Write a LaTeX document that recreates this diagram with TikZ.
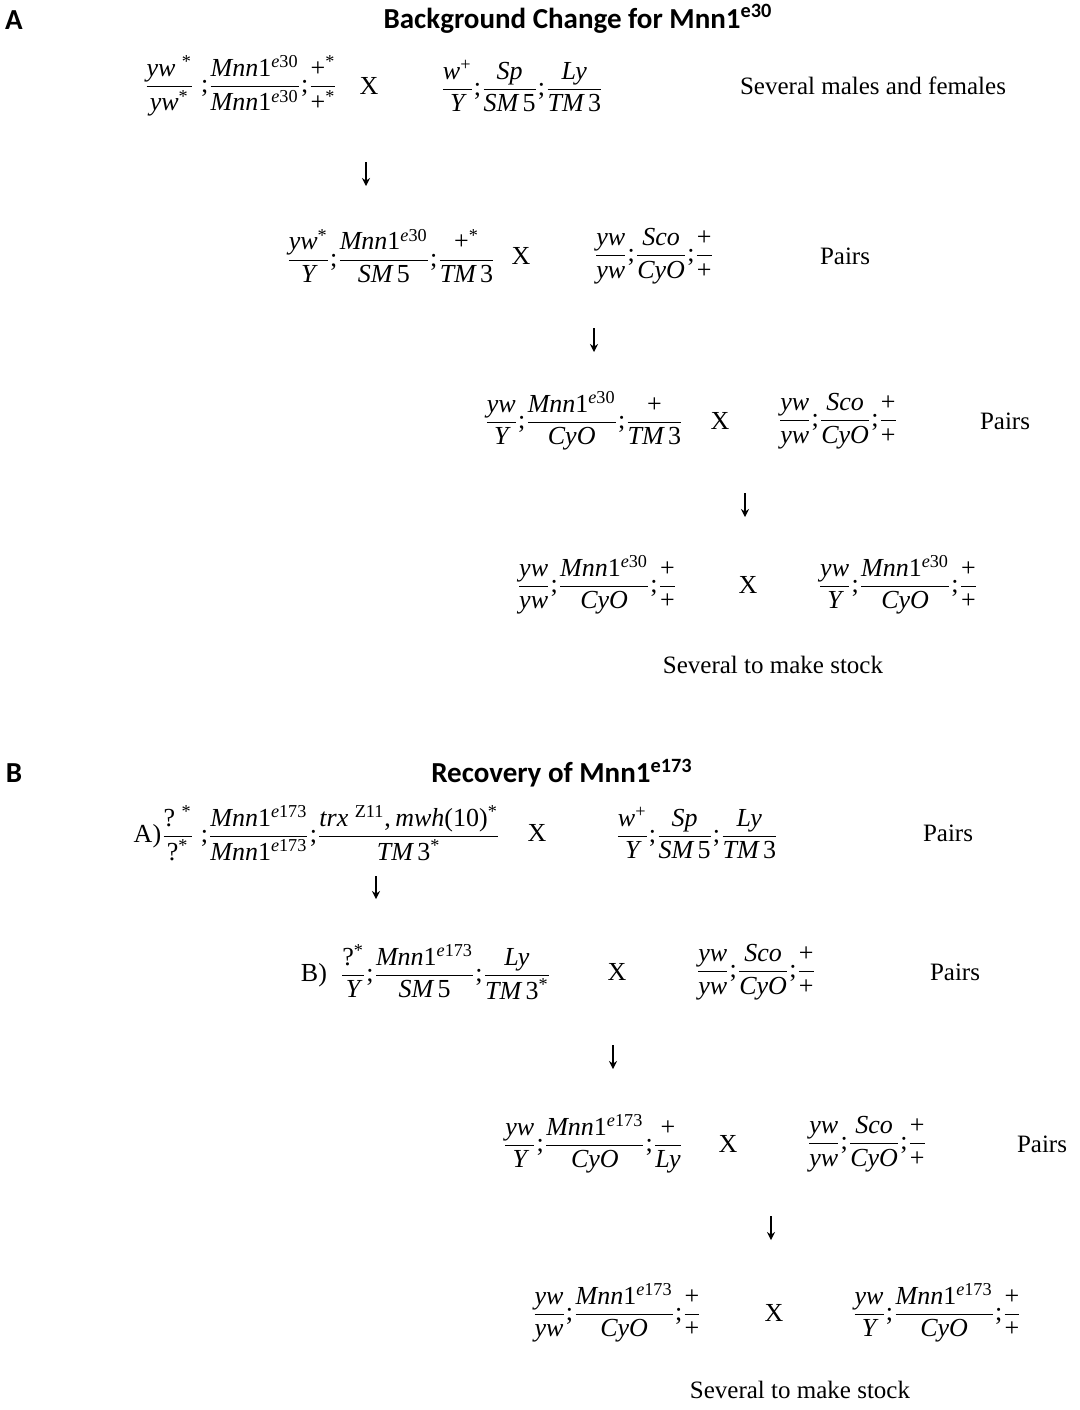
\documentclass[tikz,border=0pt]{standalone}
\usepackage{amsmath}
\usepackage{fontspec}
\setmainfont{Liberation Serif}
\newfontfamily\headfont{Carlito}
\usepackage{tikz}
\usetikzlibrary{arrows.meta}

% genotype helpers
\newcommand{\fr}[2]{\dfrac{\mbox{\itshape #1}}{\mbox{\itshape #2}}}
\newcommand{\st}{\textsuperscript{\upshape *}}
\newcommand{\sep}{\mbox{;}}
\newcommand{\mnn}[1]{Mnn\textup{1}\textsuperscript{e\textup{#1}}}
\newcommand{\plus}{\textup{+}}
\newcommand{\qm}{\textup{?}}

\tikzset{
  cross/.style={inner sep=0pt, font=\fontsize{13}{16}\selectfont},
  note/.style={inner sep=0pt, font=\fontsize{12.5}{15}\selectfont},
  head/.style={inner sep=0pt, font=\fontsize{14.5}{17}\selectfont\headfont\bfseries},
  down/.style={-{Stealth[length=4pt,width=4pt]}, line width=0.6pt},
}

\begin{document}
\begin{tikzpicture}[x=0.5pt, y=-0.5pt]

\useasboundingbox (0,0) rectangle (1080,1410);

% ── A: Background change ─────────────────────────────────────────────────────
\node[head] (labA) at (14,20) {A};
\node[head] (titA) at (578,19) {Background Change for Mnn1\textsuperscript{e30}};

% generation 1
\node[cross] (a1l) at (241,86)
  {$\fr{yw\ \st}{yw\st}\;\sep\fr{\mnn{30}}{\mnn{30}}\sep\fr{\plus\st}{\plus\st}$};
\node[cross] (a1x) at (369,86) {X};
\node[cross] (a1r) at (522,86)
  {$\fr{w\textsuperscript{\upshape +}}{Y}\sep\fr{Sp}{SM\,\textup{5}}\sep\fr{Ly}{TM\,\textup{3}}$};
\node[note] (a1n) at (873,86) {Several males and females};

\coordinate (d1t) at (366,162);
\coordinate (d1b) at (366,186);
\draw[down] (d1t) -- (d1b);

% generation 2
\node[cross] (a2l) at (391,256)
  {$\fr{yw\st}{Y}\sep\fr{\mnn{30}}{SM\,\textup{5}}\sep\fr{\plus\st}{TM\,\textup{3}}$};
\node[cross] (a2x) at (521,256) {X};
\node[cross] (a2r) at (654,256)
  {$\fr{yw}{yw}\sep\fr{Sco}{CyO}\sep\fr{\plus}{\plus}$};
\node[note] (a2n) at (845,256) {Pairs};

\coordinate (d2t) at (594,328);
\coordinate (d2b) at (594,352);
\draw[down] (d2t) -- (d2b);

% generation 3
\node[cross] (a3l) at (584,421)
  {$\fr{yw}{Y}\sep\fr{\mnn{30}}{CyO}\sep\fr{\plus}{TM\,\textup{3}}$};
\node[cross] (a3x) at (720,421) {X};
\node[cross] (a3r) at (838,421)
  {$\fr{yw}{yw}\sep\fr{Sco}{CyO}\sep\fr{\plus}{\plus}$};
\node[note] (a3n) at (1005,421) {Pairs};

\coordinate (d3t) at (745,493);
\coordinate (d3b) at (745,517);
\draw[down] (d3t) -- (d3b);

% generation 4
\node[cross] (a4l) at (597,585)
  {$\fr{yw}{yw}\sep\fr{\mnn{30}}{CyO}\sep\fr{\plus}{\plus}$};
\node[cross] (a4x) at (748,585) {X};
\node[cross] (a4r) at (898,585)
  {$\fr{yw}{Y}\sep\fr{\mnn{30}}{CyO}\sep\fr{\plus}{\plus}$};
\node[note] (a5n) at (773,665) {Several to make stock};

% ── B: Recovery ──────────────────────────────────────────────────────────────
\node[head] (labB) at (14,773) {B};
\node[head] (titB) at (562,773) {Recovery of Mnn1\textsuperscript{e173}};

% generation 1
\node[cross] (b1l) at (317,833)
  {A)$\fr{\qm\ \st}{\qm\st}\;\sep\fr{\mnn{173}}{\mnn{173}}\sep
     \fr{trx\ \textsuperscript{\upshape Z11}\textup{,}\,mwh\textup{(10)}\st}{TM\,\textup{3}\st}$};
\node[cross] (b1x) at (537,833) {X};
\node[cross] (b1r) at (697,833)
  {$\fr{w\textsuperscript{\upshape +}}{Y}\sep\fr{Sp}{SM\,\textup{5}}\sep\fr{Ly}{TM\,\textup{3}}$};
\node[note] (b1n) at (948,833) {Pairs};

\coordinate (e1t) at (376,876);
\coordinate (e1b) at (376,899);
\draw[down] (e1t) -- (e1b);

% generation 2
\node[cross] (b2l) at (426,972)
  {B)\ \ $\fr{\qm\st}{Y}\sep\fr{\mnn{173}}{SM\,\textup{5}}\sep\fr{Ly}{TM\,\textup{3}\st}$};
\node[cross] (b2x) at (617,972) {X};
\node[cross] (b2r) at (756,972)
  {$\fr{yw}{yw}\sep\fr{Sco}{CyO}\sep\fr{\plus}{\plus}$};
\node[note] (b2n) at (955,972) {Pairs};

\coordinate (e2t) at (613,1045);
\coordinate (e2b) at (613,1069);
\draw[down] (e2t) -- (e2b);

% generation 3
\node[cross] (b3l) at (593,1144)
  {$\fr{yw}{Y}\sep\fr{\mnn{173}}{CyO}\sep\fr{\plus}{Ly}$};
\node[cross] (b3x) at (728,1144) {X};
\node[cross] (b3r) at (867,1144)
  {$\fr{yw}{yw}\sep\fr{Sco}{CyO}\sep\fr{\plus}{\plus}$};
\node[note] (b3n) at (1042,1144) {Pairs};

\coordinate (e3t) at (771,1216);
\coordinate (e3b) at (771,1240);
\draw[down] (e3t) -- (e3b);

% generation 4
\node[cross] (b4l) at (617,1313)
  {$\fr{yw}{yw}\sep\fr{\mnn{173}}{CyO}\sep\fr{\plus}{\plus}$};
\node[cross] (b4x) at (774,1313) {X};
\node[cross] (b4r) at (937,1313)
  {$\fr{yw}{Y}\sep\fr{\mnn{173}}{CyO}\sep\fr{\plus}{\plus}$};
\node[note] (b5n) at (800,1390) {Several to make stock};

\end{tikzpicture}
\end{document}
